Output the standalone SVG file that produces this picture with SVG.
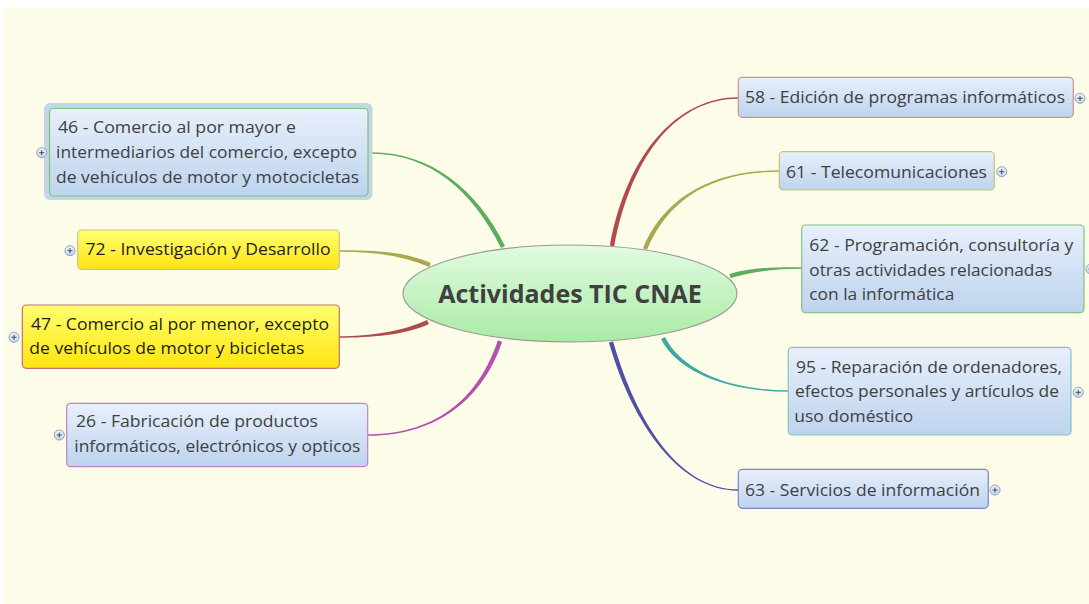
<svg xmlns="http://www.w3.org/2000/svg" width="1089" height="604" viewBox="0 0 1089 604">
<defs>
<linearGradient id="gBlue" x1="0" y1="0" x2="0" y2="1"><stop offset="0" stop-color="#E8F0FB"/><stop offset="1" stop-color="#BDD3EE"/></linearGradient>
<linearGradient id="gYel" x1="0" y1="0" x2="0" y2="1"><stop offset="0" stop-color="#FFFF70"/><stop offset="1" stop-color="#FFE40F"/></linearGradient>
<linearGradient id="gCen" x1="0" y1="0" x2="0" y2="1"><stop offset="0" stop-color="#E2FBE2"/><stop offset="1" stop-color="#A9EBA3"/></linearGradient>
<linearGradient id="gPlus" x1="0" y1="0" x2="0" y2="1"><stop offset="0" stop-color="#F2F6FB"/><stop offset="1" stop-color="#C6D4E6"/></linearGradient>
<g id="plus"><circle r="5" fill="url(#gPlus)" stroke="#8CA2C2" stroke-width="1"/><path d="M-2.5 0H2.5M0 -2.5V2.5" stroke="#3A4A6A" stroke-width="1"/></g>
</defs>
<style>
.t{font-family:"Open Sans","Liberation Sans",sans-serif;font-size:16.6px;fill:#404040}
.ty{font-family:"Open Sans","Liberation Sans",sans-serif;font-size:16.6px;fill:#1E1E1E}
.title{font-family:"Open Sans","Liberation Sans",sans-serif;font-size:25px;font-weight:bold;fill:#404040}
.nb{fill:url(#gBlue);stroke-width:1.2}
.ny{fill:url(#gYel);stroke-width:1.2}
</style>
<rect x="0" y="0" width="1089" height="604" fill="#FFFFFF"/>
<rect x="3" y="8" width="1086" height="596" fill="#FDFCE8"/>
<g id="connectors">
<path d="M505,246 C477,189 430,152.3 372,152.3 L372,153.7 C430,153.7 473,191 501,248 Z" fill="#5CAD5C"/>
<path d="M430.9,263 C405.9,252 375,250.3 340,250.3 L340,251.7 C375,251.7 404.1,256 429.1,267 Z" fill="#A8A84C"/>
<path d="M427,320 C404,331 370,336.3 339,336.3 L339,337.7 C370,337.7 406,335 429,324 Z" fill="#B04C4C"/>
<path d="M497.9,340.3 C479.9,394.3 440,434.3 368,434.3 L368,435.7 C440,435.7 484.1,395.7 502.1,341.7 Z" fill="#B050B0"/>
<path d="M614.2,246.4 C632.2,150.4 680,98.7 738,98.7 L738,97.3 C680,97.3 627.8,149.6 609.8,245.6 Z" fill="#B04C4C"/>
<path d="M647,249.8 C667,200.8 710,171.7 779,171.7 L779,170.3 C710,170.3 663,199.2 643,248.2 Z" fill="#A8A84C"/>
<path d="M730.6,278.1 C755.6,271.1 775,268.7 801,268.7 L801,267.3 C775,267.3 754.4,266.9 729.4,273.9 Z" fill="#5CAD5C"/>
<path d="M661,339 C678,373 730,391.7 788,391.7 L788,390.3 C730,390.3 682,371 665,337 Z" fill="#40A8A0"/>
<path d="M608.9,342.6 C632.9,425.6 680,490.7 738,490.7 L738,489.3 C680,489.3 637.1,424.4 613.1,341.4 Z" fill="#5050A8"/>
</g>
<g id="center">
<ellipse cx="570" cy="293.5" rx="167" ry="48.5" fill="url(#gCen)" stroke="#9A9A9A" stroke-width="1.2"/>
<text class="title" x="570" y="302.5" text-anchor="middle">Actividades TIC CNAE</text>
</g>
<g id="n46">
<rect x="44" y="103" width="328.5" height="97" rx="6" fill="#C3D6E6"/>
<rect x="49.5" y="108.5" width="318.5" height="87.5" rx="4" class="nb" stroke="#7CC27C"/>
<text class="t" x="58" y="133" textLength="238" lengthAdjust="spacingAndGlyphs">46 - Comercio al por mayor e</text>
<text class="t" x="56" y="158" textLength="301" lengthAdjust="spacingAndGlyphs">intermediarios del comercio, excepto</text>
<text class="t" x="56" y="183" textLength="303" lengthAdjust="spacingAndGlyphs">de vehículos de motor y motocicletas</text>
<use href="#plus" x="41.7" y="152.7"/>
</g>
<g id="n72">
<rect x="77.7" y="230" width="261.6" height="39.3" rx="4" class="ny" stroke="#C9C48A"/>
<text class="ty" x="85.5" y="255" textLength="245" lengthAdjust="spacingAndGlyphs">72 - Investigación y Desarrollo</text>
<use href="#plus" x="70" y="250.7"/>
</g>
<g id="n47">
<rect x="22.3" y="305" width="317" height="63.3" rx="4" class="ny" stroke="#C27070"/>
<text class="ty" x="31" y="329.5" textLength="298" lengthAdjust="spacingAndGlyphs">47 - Comercio al por menor, excepto</text>
<text class="ty" x="29.3" y="354" textLength="275" lengthAdjust="spacingAndGlyphs">de vehículos de motor y bicicletas</text>
<use href="#plus" x="14" y="337.3"/>
</g>
<g id="n26">
<rect x="66.7" y="403.3" width="301" height="63.4" rx="4" class="nb" stroke="#C47EC4"/>
<text class="t" x="76" y="427" textLength="242" lengthAdjust="spacingAndGlyphs">26 - Fabricación de productos</text>
<text class="t" x="74.3" y="452" textLength="286" lengthAdjust="spacingAndGlyphs">informáticos, electrónicos y opticos</text>
<use href="#plus" x="59.3" y="435"/>
</g>
<g id="n58">
<rect x="738.3" y="77.3" width="335" height="40" rx="4" class="nb" stroke="#D09090"/>
<text class="t" x="745" y="103" textLength="320" lengthAdjust="spacingAndGlyphs">58 - Edición de programas informáticos</text>
<use href="#plus" x="1080" y="98.3"/>
</g>
<g id="n61">
<rect x="779.3" y="151.7" width="215" height="38.3" rx="4" class="nb" stroke="#C4C27A"/>
<text class="t" x="786" y="177.5" textLength="201" lengthAdjust="spacingAndGlyphs">61 - Telecomunicaciones</text>
<use href="#plus" x="1001.7" y="171.7"/>
</g>
<g id="n62">
<rect x="801.7" y="225" width="282.3" height="87.7" rx="4" class="nb" stroke="#82C282"/>
<text class="t" x="809.3" y="251" textLength="264" lengthAdjust="spacingAndGlyphs">62 - Programación, consultoría y</text>
<text class="t" x="809.3" y="275.5" textLength="243" lengthAdjust="spacingAndGlyphs">otras actividades relacionadas</text>
<text class="t" x="809.3" y="300" textLength="145" lengthAdjust="spacingAndGlyphs">con la informática</text>
<use href="#plus" x="1091" y="269"/>
</g>
<g id="n95">
<rect x="788.3" y="347.3" width="282.7" height="87.7" rx="4" class="nb" stroke="#80C4C4"/>
<text class="t" x="796" y="372.5" textLength="266" lengthAdjust="spacingAndGlyphs">95 - Reparación de ordenadores,</text>
<text class="t" x="795" y="397" textLength="264" lengthAdjust="spacingAndGlyphs">efectos personales y artículos de</text>
<text class="t" x="794.3" y="421.5" textLength="119" lengthAdjust="spacingAndGlyphs">uso doméstico</text>
<use href="#plus" x="1078.3" y="392.3"/>
</g>
<g id="n63">
<rect x="738.3" y="469.3" width="250" height="39" rx="4" class="nb" stroke="#8282C4"/>
<text class="t" x="745" y="495.5" textLength="235" lengthAdjust="spacingAndGlyphs">63 - Servicios de información</text>
<use href="#plus" x="995" y="490"/>
</g>
</svg>
